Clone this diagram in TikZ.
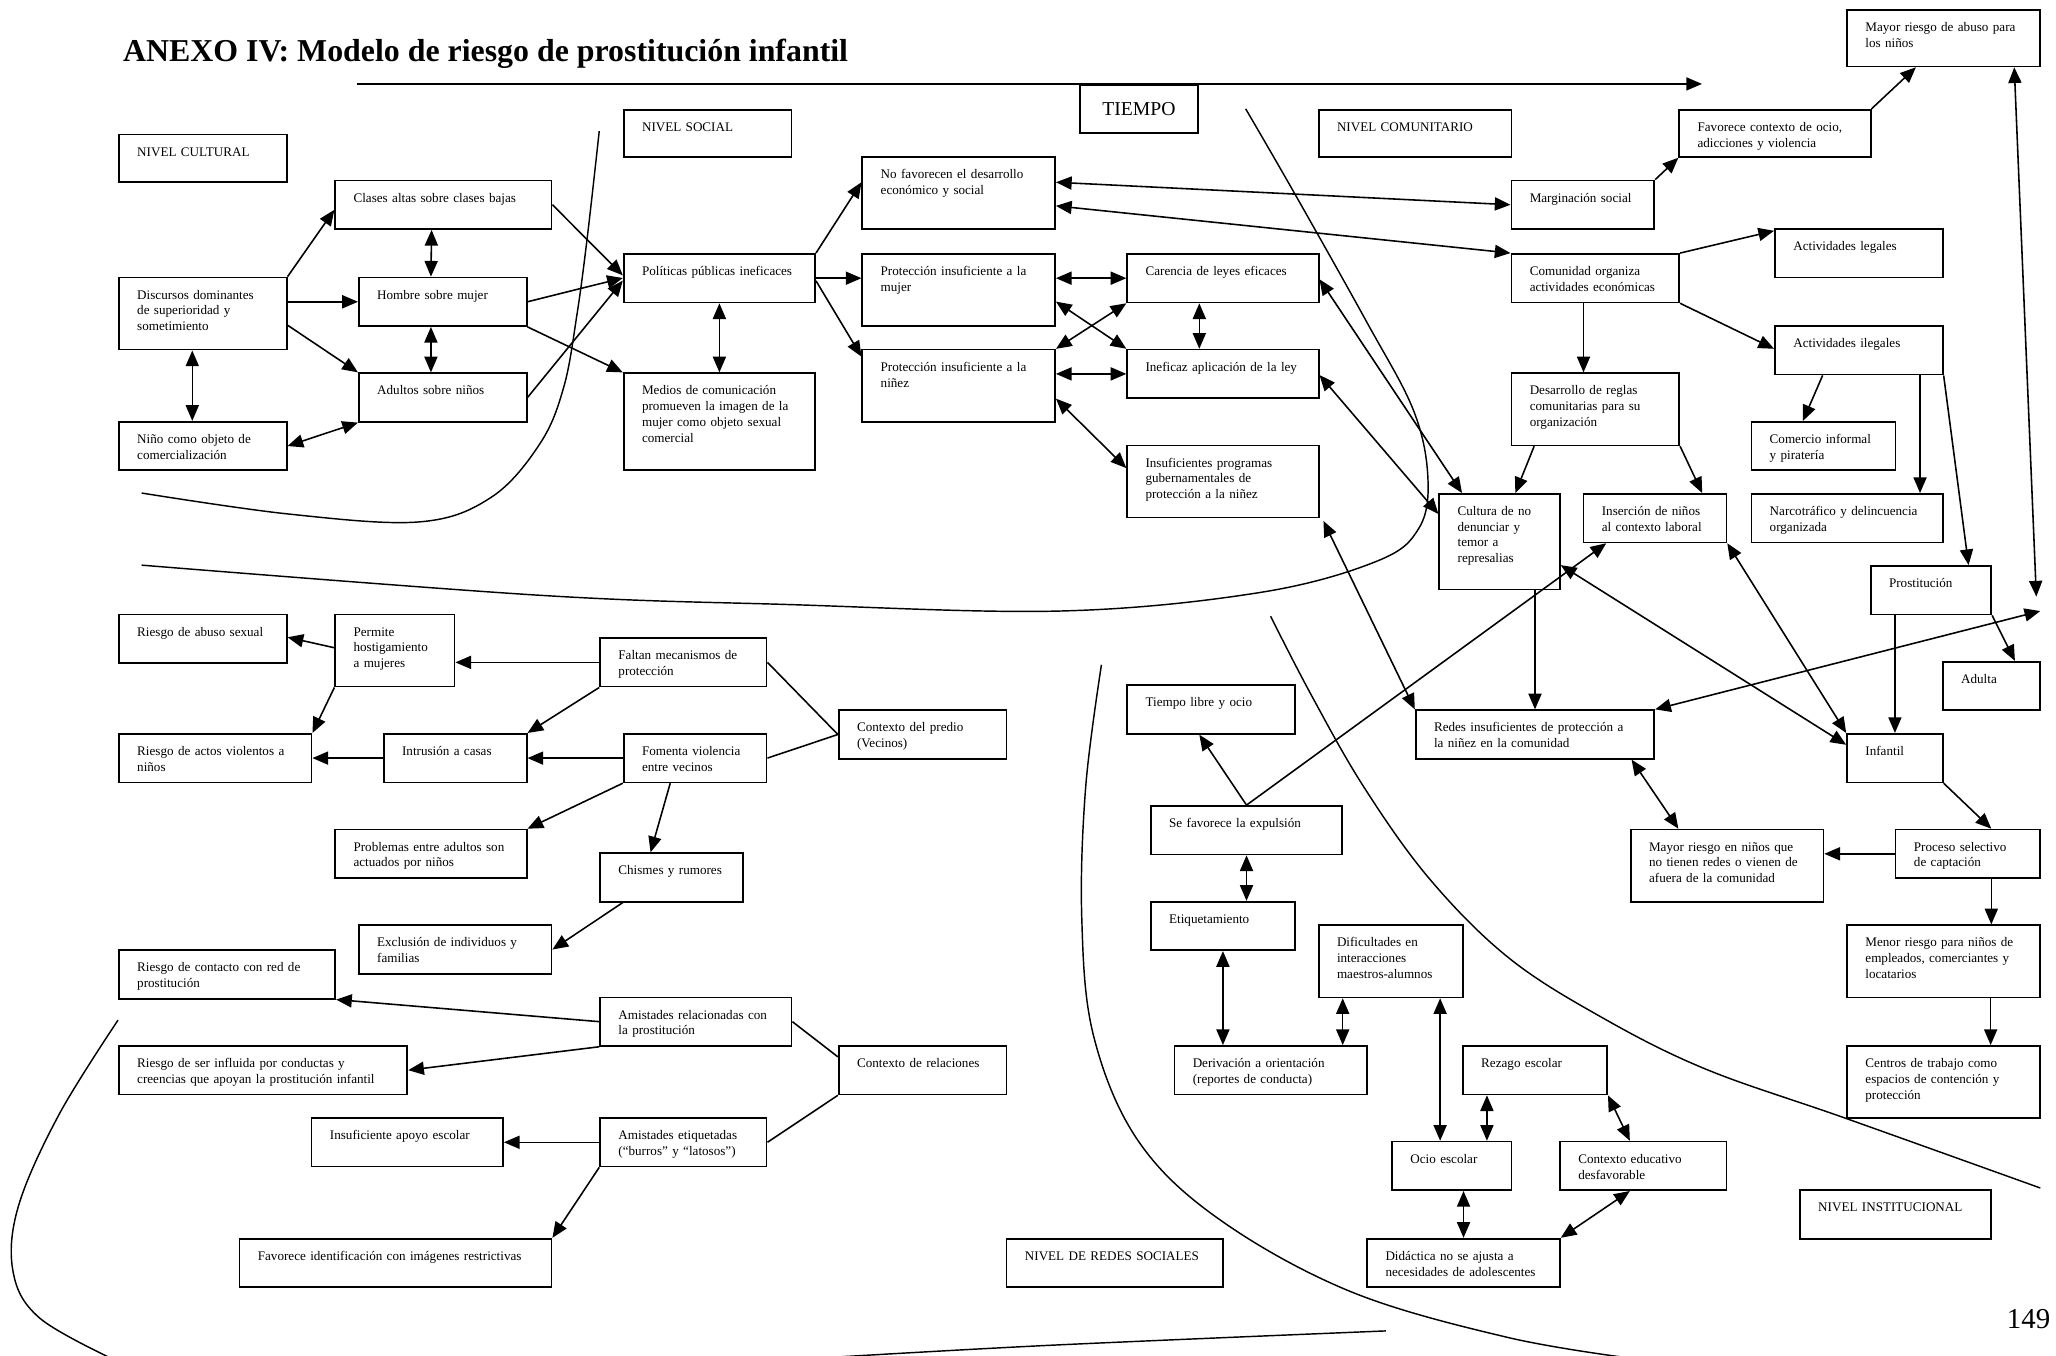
\documentclass[tikz,border=0pt]{standalone}
\usepackage{fontspec}
\setmainfont{Liberation Serif}
\usetikzlibrary{arrows.meta}

\begin{document}
\begin{tikzpicture}[x=1pt, y=-1pt, line width=1.2pt,
		caja/.style 2 args={draw, line width=1.3pt, anchor=north west, align=left, inner xsep=14pt, inner ysep=6pt,
				text width=#1pt-28pt, text height=10.5pt, text depth=#2pt-22.5pt, font=\fontsize{10}{12}\selectfont},
		flecha/.style={-{Triangle[length=12pt,width=10pt]}},
		dflecha/.style={{Triangle[length=12pt,width=10pt]}-{Triangle[length=12pt,width=10pt]}},
		frontera/.style={line width=1.1pt}]
		\path[use as bounding box, fill=white] (0,0) rectangle (1568,1034);
		\node[anchor=base west, font=\bfseries\fontsize{24.3}{28}\selectfont] (titulo) at (90,47) {ANEXO IV: Modelo de riesgo de prostitución infantil};
		\coordinate (tini) at (272,64);
		\coordinate (tfin) at (1298,64);
		\draw[flecha] (tini) -- (tfin);
		\node[draw, line width=1.3pt, anchor=north west, minimum width=90pt, minimum height=37pt, font=\fontsize{15}{18}\selectfont] (tiempo) at (823,64) {TIEMPO};
		\node[anchor=base west, font=\fontsize{22}{26}\selectfont, inner sep=0pt] (pagina) at (1530,1013) {149};
		\draw[frontera] plot[smooth, tension=0.6] coordinates {(108,376) (220,392) (320,398) (375,379) (412,338) (430,295) (440,240) (448,180) (457,100)};
		\draw[frontera] plot[smooth, tension=0.6] coordinates {(950,83) (987,147) (1042,245) (1078,313) (1089,365) (1082,403) (1050,428) (960,452) (808,466) (600,461) (412,454) (108,431)};
		\draw[frontera] plot[smooth, tension=0.6] coordinates {(969,470) (1000,530) (1040,600) (1090,670) (1150,730) (1220,775) (1300,815) (1408,853) (1556,906)};
		\draw[frontera] plot[smooth, tension=0.6] coordinates {(840,507) (828,600) (825,700) (834,790) (868,870) (930,930) (1030,985) (1150,1020) (1245,1036)};
		\draw[frontera] plot[smooth, tension=0.6] coordinates {(90,778) (45,850) (14,920) (10,970) (30,1005) (85,1036)};
		\draw[frontera] plot[smooth, tension=0.6] coordinates {(620,1036) (800,1026) (1057,1015)};
		\node[caja={128}{36}] (nivcult) at (90,102) {NIVEL CULTURAL};
		\node[caja={165}{37}] (clases) at (255,137) {Clases altas sobre clases bajas};
		\node[caja={128}{55}] (discursos) at (90,211) {Discursos dominantes\\de superioridad y\\sometimiento};
		\node[caja={128}{37}] (hombre) at (273,211) {Hombre sobre mujer};
		\node[caja={128}{37}] (adultos) at (273,284) {Adultos sobre niños};
		\node[caja={128}{37}] (nino) at (90,321) {Niño como objeto de\\comercialización};
		\node[caja={128}{36}] (nivsoc) at (475,83) {NIVEL SOCIAL};
		\node[caja={147}{55}] (nofav) at (657,119) {No favorecen el desarrollo\\económico y social};
		\node[caja={146}{37}] (politicas) at (475,193) {Políticas públicas ineficaces};
		\node[caja={147}{55}] (protmujer) at (657,193) {Protección insuficiente a la\\mujer};
		\node[caja={147}{55}] (protnin) at (657,266) {Protección insuficiente a la\\niñez};
		\node[caja={146}{74}] (medios) at (475,284) {Medios de comunicación\\promueven la imagen de la\\mujer como objeto sexual\\comercial};
		\node[caja={146}{37}] (carencia) at (859,193) {Carencia de leyes eficaces};
		\node[caja={146}{37}] (ineficaz) at (859,266) {Ineficaz aplicación de la ley};
		\node[caja={146}{55}] (insprog) at (859,339) {Insuficientes programas\\gubernamentales de\\protección a la niñez};
		\node[caja={147}{36}] (nivcom) at (1005,83) {NIVEL COMUNITARIO};
		\node[caja={147}{43}] (mayorab) at (1408,7) {Mayor riesgo de abuso para\\los niños};
		\node[caja={146}{36}] (favorece) at (1280,83) {Favorece contexto de ocio,\\adicciones y violencia};
		\node[caja={109}{37}] (margin) at (1152,137) {Marginación social};
		\node[caja={128}{37}] (comunidad) at (1152,193) {Comunidad organiza\\actividades económicas};
		\node[caja={128}{37}] (actleg) at (1353,174) {Actividades legales};
		\node[caja={128}{37}] (actileg) at (1353,248) {Actividades ilegales};
		\node[caja={128}{55}] (desarrollo) at (1152,284) {Desarrollo de reglas\\comunitarias para su\\organización};
		\node[caja={110}{37}] (comercio) at (1335,321) {Comercio informal\\y piratería};
		\node[caja={92}{73}] (cultura) at (1097,376) {Cultura de no\\denunciar y\\temor a\\represalias};
		\node[caja={109}{37}] (insercion) at (1207,376) {Inserción de niños\\al contexto laboral};
		\node[caja={146}{37}] (narco) at (1335,376) {Narcotráfico y delincuencia\\organizada};
		\node[caja={92}{37}] (prost) at (1426,431) {Prostitución};
		\node[caja={74}{37}] (adulta) at (1481,504) {Adulta};
		\node[caja={182}{37}] (redes) at (1079,541) {Redes insuficientes de protección a\\la niñez en la comunidad};
		\node[caja={73}{37}] (infantil) at (1408,559) {Infantil};
		\node[caja={147}{55}] (mayorninos) at (1243,632) {Mayor riesgo en niños que\\no tienen redes o vienen de\\afuera de la comunidad};
		\node[caja={110}{37}] (proceso) at (1445,632) {Proceso selectivo\\de captación};
		\node[caja={147}{55}] (menor) at (1408,705) {Menor riesgo para niños de\\empleados, comerciantes y\\locatarios};
		\node[caja={147}{55}] (centros) at (1408,797) {Centros de trabajo como\\espacios de contención y\\protección};
		\node[caja={146}{37}] (nivinst) at (1372,907) {NIVEL INSTITUCIONAL};
		\node[caja={128}{37}] (tiempolibre) at (859,522) {Tiempo libre y ocio};
		\node[caja={146}{37}] (expulsion) at (877,614) {Se favorece la expulsión};
		\node[caja={110}{37}] (etiq) at (877,687) {Etiquetamiento};
		\node[caja={110}{55}] (dificult) at (1005,705) {Dificultades en\\interacciones\\maestros-alumnos};
		\node[caja={147}{37}] (derivacion) at (895,797) {Derivación a orientación\\(reportes de conducta)};
		\node[caja={110}{37}] (rezago) at (1115,797) {Rezago escolar};
		\node[caja={91}{37}] (ocio) at (1061,870) {Ocio escolar};
		\node[caja={127}{37}] (contexedu) at (1189,870) {Contexto educativo\\desfavorable};
		\node[caja={147}{37}] (didactica) at (1042,944) {Didáctica no se ajusta a\\necesidades de adolescentes};
		\node[caja={165}{37}] (nivredes) at (767,944) {NIVEL DE REDES SOCIALES};
		\node[caja={128}{37}] (riesgoabuso) at (90,468) {Riesgo de abuso sexual};
		\node[caja={91}{55}] (permite) at (255,468) {Permite\\hostigamiento\\a mujeres};
		\node[caja={127}{37}] (faltan) at (457,486) {Faltan mecanismos de\\protección};
		\node[caja={147}{37}] (actosviol) at (90,559) {Riesgo de actos violentos a\\niños};
		\node[caja={109}{37}] (intrusion) at (292,559) {Intrusión a casas};
		\node[caja={109}{37}] (fomenta) at (475,559) {Fomenta violencia\\entre vecinos};
		\node[caja={128}{37}] (predio) at (639,541) {Contexto del predio\\(Vecinos)};
		\node[caja={146}{37}] (problemas) at (255,632) {Problemas entre adultos son\\actuados por niños};
		\node[caja={109}{37}] (chismes) at (457,650) {Chismes y rumores};
		\node[caja={147}{37}] (exclusion) at (273,705) {Exclusión de individuos y\\familias};
		\node[caja={165}{37}] (contacto) at (90,724) {Riesgo de contacto con red de\\prostitución};
		\node[caja={146}{37}] (amisrel) at (457,760) {Amistades relacionadas con\\la prostitución};
		\node[caja={220}{37}] (influida) at (90,797) {Riesgo de ser influida por conductas y\\creencias que apoyan la prostitución infantil};
		\node[caja={128}{37}] (contrel) at (639,797) {Contexto de relaciones};
		\node[caja={146}{37}] (apoyo) at (237,852) {Insuficiente apoyo escolar};
		\node[caja={127}{37}] (amiseti) at (457,852) {Amistades etiquetadas\\(“burros” y “latosos”)};
		\node[caja={238}{37}] (identif) at (182,944) {Favorece identificación con imágenes restrictivas};
		\coordinate (finA) at (1553,455);
		\coordinate (finB) at (1556,466);
		\draw[flecha] (discursos.north east) -- ([yshift=-23pt]clases.north west);
		\draw[flecha] (discursos.east |- hombre.west) -- (hombre.west);
		\draw[flecha] ([yshift=-37pt]discursos.north east) -- (adultos.north west);
		\draw[dflecha] ([xshift=-9pt]clases.south) -- ([xshift=-9pt]hombre.north);
		\draw[dflecha] ([xshift=-9pt]hombre.south) -- ([xshift=-9pt]adultos.north);
		\draw[dflecha] ([xshift=-8pt]discursos.south) -- ([xshift=-8pt]nino.north);
		\draw[dflecha] (nino.east) -- (adultos.south west);
		\draw[flecha] (clases.east) -- ([yshift=-17pt]politicas.north west);
		\draw[flecha] (hombre.east) -- ([yshift=-19pt]politicas.north west);
		\draw[flecha] (adultos.east) -- ([yshift=-21pt]politicas.north west);
		\draw[flecha] (hombre.south east) -- (medios.north west);
		\draw[dflecha] (politicas.south) -- (medios.north);
		\draw[flecha] (politicas.north east) -- ([yshift=-20pt]nofav.north west);
		\draw[flecha] (politicas.east) -- (protmujer.west |- politicas.east);
		\draw[flecha] ([yshift=-2pt]politicas.east) -- ([yshift=-6pt]protnin.north west);
		\draw[dflecha] ([yshift=-20pt]nofav.north east) -- (margin.west);
		\draw[dflecha] ([yshift=-38pt]nofav.north east) -- (comunidad.north west);
		\draw[dflecha] (protmujer.east |- carencia.west) -- (carencia.west);
		\draw[dflecha] ([yshift=-37pt]protmujer.north east) -- (ineficaz.north west);
		\draw[dflecha] (protnin.north east) -- (carencia.south west);
		\draw[dflecha] (protnin.east |- ineficaz.west) -- (ineficaz.west);
		\draw[dflecha] ([yshift=-38pt]protnin.north east) -- ([yshift=-18pt]insprog.north west);
		\draw[dflecha] ([xshift=-18pt]carencia.south) -- ([xshift=-18pt]ineficaz.north);
		\draw[dflecha] ([yshift=-20pt]carencia.north east) -- ([xshift=18pt]cultura.north west);
		\draw[dflecha] ([yshift=-20pt]ineficaz.north east) -- ([yshift=-16pt]cultura.north west);
		\draw[dflecha] ([xshift=3pt,yshift=-2pt]insprog.south east) -- (redes.north west);
		\draw[flecha] (margin.north east) -- (favorece.south west);
		\draw[flecha] (favorece.north east) -- ([xshift=-21pt]mayorab.south);
		\draw[flecha] (comunidad.north east) -- ([yshift=-2pt]actleg.north west);
		\draw[flecha] (comunidad.south east) -- ([yshift=-18pt]actileg.north west);
		\draw[flecha] ([xshift=-9pt]comunidad.south) -- ([xshift=-9pt]comunidad.south |- desarrollo.north);
		\draw[flecha] ([xshift=18pt]desarrollo.south west) -- ([xshift=12pt]cultura.north);
		\draw[flecha] (desarrollo.south east) -- ([xshift=36pt]insercion.north);
		\draw[flecha] ([xshift=37pt]actileg.south west) -- ([xshift=40pt]comercio.north west);
		\draw[flecha] ([xshift=-18pt]actileg.south east) -- ([xshift=-18pt]narco.north east);
		\draw[flecha] (actileg.south east) -- ([xshift=-18pt]prost.north east);
		\draw[flecha] (infantil.north |- prost.south) -- (infantil.north);
		\draw[flecha] (prost.south east) -- ([xshift=18pt]adulta.north);
		\draw[dflecha] ([xshift=54pt]mayorab.south) -- (finA);
		\draw[dflecha] (redes.north east) -- (finB);
		\draw[flecha] ([xshift=27pt]cultura.south) -- ([xshift=27pt]cultura.south |- redes.north);
		\draw[dflecha] ([yshift=-55pt]cultura.north east) -- ([yshift=-9pt]infantil.north west);
		\draw[dflecha] (insercion.south east) -- (infantil.north west);
		\draw[dflecha] ([xshift=-18pt]redes.south east) -- ([xshift=37pt]mayorninos.north west);
		\draw[flecha] (infantil.south east) -- ([xshift=18pt]proceso.north);
		\draw[flecha] (proceso.west) -- (mayorninos.east |- proceso.west);
		\draw[flecha] ([xshift=18pt]proceso.south) -- ([xshift=18pt]proceso.south |- menor.north);
		\draw[flecha] ([xshift=36pt]menor.south) -- ([xshift=36pt]menor.south |- centros.north);
		\draw[flecha] (expulsion.north) -- ([xshift=18pt]insercion.south west);
		\draw[flecha] (expulsion.north) -- ([xshift=-9pt]tiempolibre.south);
		\draw[dflecha] (expulsion.south) -- (expulsion.south |- etiq.north);
		\draw[dflecha] (etiq.south) -- (etiq.south |- derivacion.north);
		\draw[dflecha] ([xshift=19pt]dificult.south west) -- ([xshift=19pt]dificult.south west |- derivacion.north);
		\draw[dflecha] ([xshift=-18pt]dificult.south east) -- ([xshift=-18pt]dificult.south east |- ocio.north);
		\draw[dflecha] ([xshift=19pt]rezago.south west) -- ([xshift=19pt]rezago.south west |- ocio.north);
		\draw[dflecha] (rezago.south east) -- ([xshift=54pt]contexedu.north west);
		\draw[dflecha] ([xshift=9pt]ocio.south) -- ([xshift=9pt]ocio.south |- didactica.north);
		\draw[dflecha] ([xshift=54pt]contexedu.south west) -- (didactica.north east);
		\draw[flecha] (faltan.west) -- (permite.east |- faltan.west);
		\draw[flecha] ([yshift=-26pt]permite.north west) -- ([yshift=-18pt]riesgoabuso.north east);
		\draw[flecha] (permite.south west) -- (actosviol.north east);
		\draw[flecha] (faltan.south west) -- (intrusion.north east);
		\draw[flecha] (intrusion.west) -- (actosviol.east);
		\draw[flecha] (fomenta.west) -- (intrusion.east);
		\draw[flecha] (fomenta.south west) -- (problemas.north east);
		\draw[flecha] ([xshift=-19pt]fomenta.south) -- ([xshift=-16pt]chismes.north);
		\draw[flecha] ([xshift=18pt]chismes.south west) -- (exclusion.east);
		\draw (faltan.east) -- (predio.west);
		\draw (fomenta.east) -- (predio.west);
		\draw[flecha] (amisrel.west) -- (contacto.south east);
		\draw[flecha] (amisrel.south west) -- (influida.east);
		\draw ([yshift=-9pt]contrel.north west) -- (amisrel.east);
		\draw (contrel.south west) -- (amiseti.east);
		\draw[flecha] (amiseti.west) -- (apoyo.east);
		\draw[flecha] (amiseti.south west) -- (identif.north east);
	\end{tikzpicture}
\end{document}
